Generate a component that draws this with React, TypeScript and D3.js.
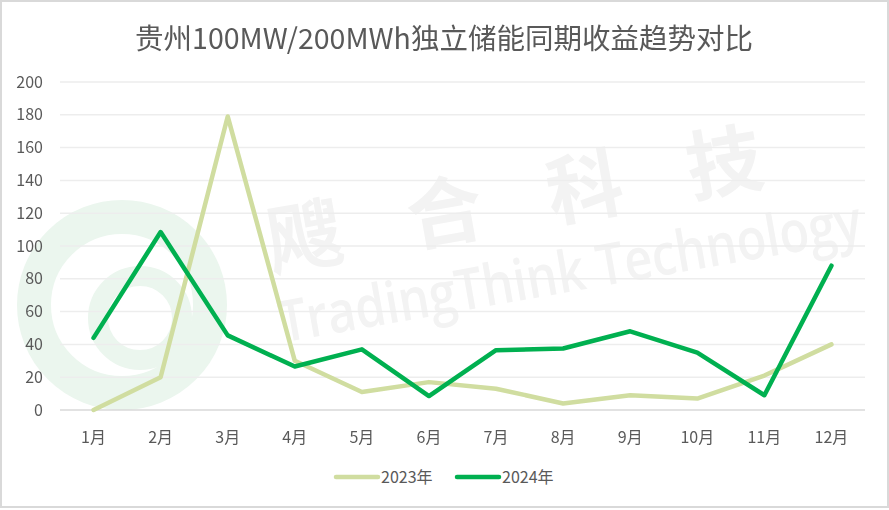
import React from 'react';
import * as d3 from 'd3';

const months = ['1月', '2月', '3月', '4月', '5月', '6月', '7月', '8月', '9月', '10月', '11月', '12月'];
const values2023 = [0, 20, 179, 30, 11, 17, 13, 4, 9, 7, 21, 40];
const values2024 = [44, 108.5, 45.5, 26.5, 37, 8.5, 36.5, 37.5, 48, 35, 9, 88];
const yTicks = [0, 20, 40, 60, 80, 100, 120, 140, 160, 180, 200];

const seriesNames = ['2023年', '2024年'];
const seriesColors = ['#D0DDA0', '#00B050'];

const watermarkChars = ['飕', '合', '科', '技'];

const W = 889, H = 510;
const plot = { left: 60, right: 865, top: 82, bottom: 410 };
const font = '"Noto Sans CJK SC", "Noto Sans", sans-serif';

const App = () => {
    const x = d3.scaleBand().domain(months).range([plot.left, plot.right]);
    const y = d3.scaleLinear().domain([0, 200]).range([plot.bottom, plot.top]);

    const line = d3.line<number>()
        .x((d, i) => x(months[i])! + x.bandwidth() / 2)
        .y((d) => y(d));

    const allSeries = [values2023, values2024];

    return (
        <div style={{ position: 'fixed', left: 0, top: 0 }}>
            <svg width={W} height={H} style={{ display: 'block', fontFamily: font }}>
                <rect x={1} y={1} width={W - 2} height={H - 4} fill="#fff" stroke="#D9D9D9" strokeWidth={2} />

                {/* watermark */}
                <g>
                    <circle cx={122} cy={305} r={88} fill="none" stroke="#EBF6EE" strokeWidth={34} />
                    <circle cx={140} cy={318} r={42} fill="none" stroke="#EBF6EE" strokeWidth={20} />
                    <g transform="translate(305,237) rotate(-10)" fill="#F3F3F3">
                        {watermarkChars.map((c, i) => (
                            <text key={c} x={i * 142} y={0} dy="0.36em" fontSize={76} fontWeight="bold" textAnchor="middle">{c}</text>
                        ))}
                        <g transform="translate(-40,100) scale(1,1.2)">
                            <text x={0} y={0} fontSize={48} fontFamily='"Open Sans", sans-serif' fontWeight="600"
                                textLength={590} lengthAdjust="spacingAndGlyphs">TradingThink Technology</text>
                        </g>
                    </g>
                </g>

                <text x={444} y={49} textAnchor="middle" fontSize={28.5} fill="#595959">贵州100MW/200MWh独立储能同期收益趋势对比</text>

                {yTicks.map((t) => (
                    <g key={t}>
                        <line x1={plot.left} x2={plot.right} y1={y(t)} y2={y(t)}
                            stroke={t === 0 ? '#D9D9D9' : '#EDEDED'} strokeWidth={1.5} />
                        <text x={43} y={y(t)} dy="0.35em" textAnchor="end" fontSize={16} fill="#595959">{t}</text>
                    </g>
                ))}

                {months.map((m) => (
                    <text key={m} x={x(m)! + x.bandwidth() / 2} y={437} dy="0.35em" textAnchor="middle" fontSize={16} fill="#595959">{m}</text>
                ))}

                {allSeries.map((s, i) => (
                    <path key={i} d={line(s)!} fill="none" stroke={seriesColors[i]} strokeWidth={4.5}
                        strokeLinejoin="round" strokeLinecap="round" />
                ))}

                {seriesNames.map((n, i) => (
                    <g key={n} transform={`translate(${336 + i * 121},477)`}>
                        <line x1={0} x2={42} y1={0} y2={0} stroke={seriesColors[i]} strokeWidth={4.5} strokeLinecap="round" />
                        <text x={45} y={0} dy="0.35em" fontSize={16} fill="#595959">{n}</text>
                    </g>
                ))}
            </svg>
        </div>
    );
};

export default App;
